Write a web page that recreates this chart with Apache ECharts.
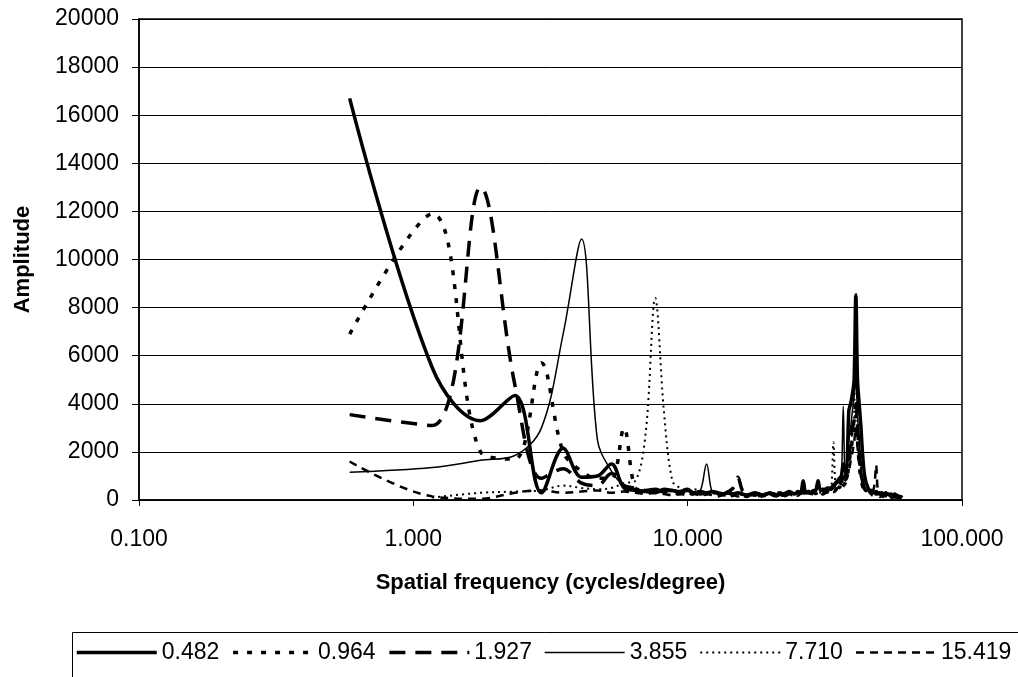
<!DOCTYPE html>
<html>
<head>
<meta charset="utf-8">
<script src="https://cdn.jsdelivr.net/npm/echarts@6/dist/echarts.min.js"></script>
<style>
  html, body { margin: 0; padding: 0; background: #fff; }
  #chart { width: 1018px; height: 677px; }
</style>
</head>
<body>
<div id="chart"></div>
<script>
// spatial frequency of each sample (cycles/degree)
var freq = [
  0.586, 1.172, 1.758, 2.344, 2.930, 3.516, 4.102, 4.688, 5.274, 5.860,
  6.446, 7.032, 7.618, 8.204, 8.790, 9.376, 9.962, 10.548, 11.134, 11.720,
  12.306, 12.892, 13.478, 14.064, 14.650, 15.236, 15.822, 16.408, 16.994, 17.580,
  18.166, 18.752, 19.338, 19.924, 20.510, 21.096, 21.682, 22.268, 22.854, 23.440,
  24.026, 24.612, 25.198, 25.784, 26.370, 26.956, 27.542, 28.128, 28.714, 29.300,
  29.886, 30.472, 31.058, 31.644, 32.230, 32.816, 33.402, 33.988, 34.574, 35.160,
  35.746, 36.332, 36.918, 37.504, 38.090, 38.676, 39.262, 39.848, 40.434, 41.020,
  41.606, 42.192, 42.778, 43.364, 43.950, 44.536, 45.122, 45.708, 46.294, 46.880,
  47.466, 48.052, 48.638, 49.224, 49.810, 50.396, 50.982, 51.568, 52.154, 52.740,
  53.326, 53.912, 54.498, 55.084, 55.670, 56.256, 56.842, 57.428, 58.014, 58.600,
  59.186, 59.772, 60.358
];

var amp0482 = [
  16700, 5500, 3300, 4350, 300, 2150, 950, 1000, 1500, 500,
  400, 350, 300, 450, 400, 350, 450, 300, 350, 300,
  350, 300, 250, 300, 250, 300, 250, 200, 250, 300,
  250, 200, 250, 300, 250, 200, 300, 250, 300, 350,
  300, 250, 350, 300, 800, 300, 350, 300, 350, 400,
  800, 400, 450, 400, 500, 450, 500, 600, 700, 800,
  900, 1000, 1500, 1200, 1500, 3700, 4000, 4400, 5000, 8500,
  5000, 4000, 3100, 2000, 1200, 800, 600, 450, 400, 400,
  350, 300, 350, 300, 300, 250, 300, 250, 250, 300,
  250, 250, 200, 250, 200, 200, 250, 200, 200, 150,
  150, 150, 100
];

var amp0964 = [
  6900, 11900, 2000, 1700, 5700, 2000, 1200, 900, 900, 3000,
  500, 400, 350, 400, 300, 250, 300, 250, 200, 250,
  200, 250, 200, 150, 200, 250, 200, 150, 200, 150,
  200, 150, 200, 250, 200, 150, 200, 150, 200, 250,
  200, 250, 200, 300, 250, 200, 250, 300, 250, 200,
  250, 300, 250, 300, 350, 300, 400, 350, 400, 500,
  400, 500, 600, 700, 900, 1500, 2000, 2500, 3000, 3500,
  2500, 1500, 900, 600, 400, 350, 300, 250, 300, 250,
  200, 250, 200, 250, 200, 150, 200, 150, 200, 150,
  150, 200, 150, 150, 100, 150, 100, 150, 100, 100,
  100, 100, 100
];

var amp1927 = [
  3550, 3100, 13000, 4800, 900, 1300, 700, 600, 1100, 600,
  500, 400, 450, 350, 400, 300, 350, 300, 250, 300,
  250, 300, 250, 350, 500, 950, 400, 300, 250, 200,
  250, 200, 250, 200, 250, 300, 250, 200, 250, 300,
  250, 300, 250, 300, 350, 300, 350, 300, 400, 350,
  400, 350, 400, 450, 400, 500, 450, 600, 500, 700,
  600, 800, 900, 1000, 1200, 1800, 2500, 3000, 3300, 4000,
  3000, 2000, 1200, 800, 500, 400, 350, 300, 350, 300,
  250, 300, 250, 250, 300, 250, 200, 250, 200, 200,
  200, 150, 200, 150, 150, 150, 100, 150, 100, 100,
  100, 100, 80
];

var amp3855 = [
  1150, 1350, 1650, 1850, 3000, 6900, 10850, 2500, 1200, 600,
  450, 400, 350, 300, 400, 300, 350, 300, 400, 1500,
  300, 250, 300, 250, 200, 250, 200, 250, 200, 250,
  200, 250, 200, 250, 300, 250, 200, 250, 300, 250,
  300, 250, 300, 250, 800, 300, 250, 300, 350, 300,
  800, 400, 350, 400, 350, 450, 400, 500, 600, 700,
  800, 900, 3900, 900, 1500, 2500, 3000, 3700, 4300, 5000,
  3500, 2500, 1500, 900, 600, 450, 400, 350, 300, 350,
  300, 250, 300, 250, 300, 200, 250, 200, 250, 200,
  200, 200, 150, 200, 150, 150, 150, 100, 150, 100,
  100, 100, 80
];

var amp7710 = [
  null, 100, 300, 350, 400, 600, 500, 450, 500, 700,
  800, 2800, 8400, 3600, 800, 500, 400, 450, 350, 300,
  350, 300, 250, 300, 250, 200, 250, 200, 250, 200,
  150, 200, 150, 200, 250, 200, 150, 200, 250, 200,
  250, 200, 250, 200, 250, 300, 250, 300, 250, 300,
  350, 300, 350, 300, 400, 450, 500, 2400, 600, 500,
  600, 700, 800, 900, 1000, 1500, 2000, 3000, 3500, 8600,
  3000, 2000, 1300, 800, 500, 400, 350, 300, 250, 300,
  250, 200, 250, 200, 200, 150, 200, 150, 150, 150,
  150, 100, 150, 100, 100, 100, 100, 100, 80, 80,
  80, 80, 60
];

var amp15419 = [
  1600, 150, 50, 300, 400, 300, 350, 400, 300, 350,
  300, 250, 300, 250, 200, 250, 200, 250, 200, 250,
  200, 150, 200, 150, 200, 150, 200, 150, 200, 150,
  200, 150, 200, 150, 200, 150, 200, 250, 200, 250,
  200, 250, 300, 250, 300, 250, 300, 250, 300, 250,
  300, 350, 300, 350, 300, 400, 350, 400, 450, 500,
  500, 600, 700, 800, 900, 1200, 1600, 2000, 2400, 3000,
  2200, 1500, 1000, 700, 500, 400, 350, 300, 300, 350,
  400, 700, 1450, 500, 300, 250, 200, 250, 200, 200,
  150, 200, 150, 150, 150, 100, 150, 100, 100, 100,
  80, 80, 60
];

var seriesNames = ['0.482', '0.964', '1.927', '3.855', '7.710', '15.419'];
var amps = [amp0482, amp0964, amp1927, amp3855, amp7710, amp15419];
var lineStyles = [
  { width: 3.5, type: 'solid' },
  { width: 3.5, type: [5, 9] },
  { width: 3.5, type: [16, 10] },
  { width: 1.5, type: 'solid' },
  { width: 2, type: [2, 4] },
  { width: 2.5, type: [8, 6] }
];

var FONT = 'Liberation Sans, Arial, Helvetica, sans-serif';

function pairs(ys) {
  var out = [];
  for (var i = 0; i < ys.length; i++) out.push([freq[i], ys[i]]);
  return out;
}

var chart = echarts.init(document.getElementById('chart'));

var series = seriesNames.map(function (name, i) {
  return {
    name: name,
    type: 'line',
    data: pairs(amps[i]),
    smooth: 0.35,
    symbol: 'none',
    connectNulls: false,
    lineStyle: { color: '#000', width: lineStyles[i].width, type: lineStyles[i].type },
    itemStyle: { color: '#000' },
    z: 10 - i
  };
});

var option = {
  animation: false,
  backgroundColor: '#fff',
  textStyle: { fontFamily: FONT, color: '#000' },
  grid: {
    left: 139, right: 56, top: 19, bottom: 177,
    show: true, borderColor: '#000', borderWidth: 1.5, backgroundColor: 'transparent'
  },
  // legend frame, runs off the right edge like the original
  graphic: [{
    type: 'rect', left: 70, top: 630,
    shape: { width: 1000, height: 46 },
    style: { fill: 'none', stroke: '#000', lineWidth: 1 }
  }],
  legend: {
    left: 75, top: 641,
    data: seriesNames,
    itemWidth: 80, itemHeight: 10, itemGap: 12,
    itemStyle: { opacity: 0 },
    lineStyle: { width: 'inherit' },
    padding: 0,
    textStyle: { fontSize: 23, color: '#000', fontFamily: FONT }
  },
  xAxis: {
    type: 'log', logBase: 10, min: 0.1, max: 100,
    name: 'Spatial frequency (cycles/degree)',
    nameLocation: 'middle', nameGap: 72,
    nameTextStyle: { fontSize: 22, fontWeight: 'bold', color: '#000', fontFamily: FONT },
    axisLine: { lineStyle: { color: '#000', width: 1.5 } },
    axisTick: { show: true, length: 6, lineStyle: { color: '#000' } },
    minorTick: { show: false },
    splitLine: { show: false },
    axisLabel: {
      fontSize: 23, color: '#000', margin: 28, fontFamily: FONT,
      formatter: function (v) { return Number(v).toFixed(3); }
    }
  },
  yAxis: {
    type: 'value', min: 0, max: 20000, interval: 2000,
    name: 'Amplitude',
    nameLocation: 'middle', nameGap: 105,
    nameTextStyle: { fontSize: 22, fontWeight: 'bold', color: '#000', fontFamily: FONT },
    axisLine: { show: true, lineStyle: { color: '#000', width: 1.5 } },
    axisTick: { show: true, length: 7, lineStyle: { color: '#000' } },
    splitLine: { show: true, lineStyle: { color: '#000', width: 1 } },
    axisLabel: {
      fontSize: 23, color: '#000', margin: 20, fontFamily: FONT,
      formatter: function (v) { return String(v); }
    }
  },
  series: series
};

chart.setOption(option);
</script>
</body>
</html>
